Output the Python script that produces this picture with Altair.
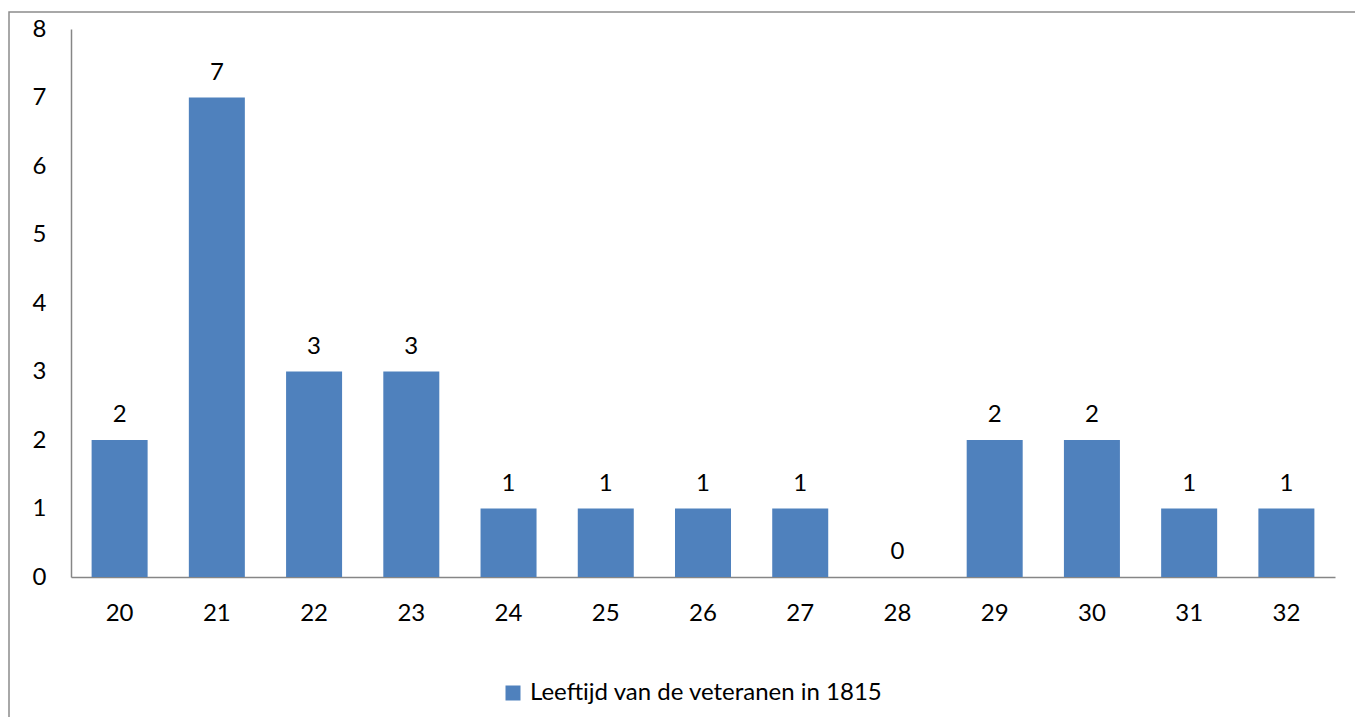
import altair as alt
import pandas as pd

ages = ["20", "21", "22", "23", "24", "25", "26", "27", "28", "29", "30", "31", "32"]
counts = [2, 7, 3, 3, 1, 1, 1, 1, 0, 2, 2, 1, 1]
series_name = "Leeftijd van de veteranen in 1815"

df = pd.DataFrame({"age": ages, "count": counts, "series": [series_name] * len(ages)})

FONT = "Lato"
FS = 24
W, H = 1264, 548

base = alt.Chart(df).encode(
    x=alt.X("age:N", sort=ages, title=None,
            scale=alt.Scale(paddingInner=0.424, paddingOuter=0.212),
            axis=alt.Axis(labelAngle=0, ticks=False, labelPadding=24, labelFontSize=FS,
                          labelFont=FONT, labelColor="#000", domainColor="#868686",
                          domainWidth=1.5)),
    y=alt.Y("count:Q", title=None,
            scale=alt.Scale(domain=[0, 8], nice=False),
            axis=alt.Axis(values=list(range(9)), ticks=False, grid=False, labelPadding=25,
                          labelFontSize=FS, labelFont=FONT, labelColor="#000",
                          domainColor="#868686", domainWidth=1.5)),
)

bars = base.mark_bar(clip=False).encode(
    color=alt.Color("series:N", title=None,
                    scale=alt.Scale(range=["#4F81BD"]),
                    legend=alt.Legend(orient="none", legendX=430, legendY=652,
                                      symbolType="square", symbolSize=225,
                                      symbolStrokeWidth=0, labelFontSize=FS,
                                      labelFont=FONT, labelColor="#000",
                                      labelOffset=5, labelLimit=600))
)

labels = base.mark_text(dy=-18, baseline="alphabetic", fontSize=FS, font=FONT, color="#000").encode(
    text="count:Q"
)

border = alt.Chart(pd.DataFrame({"a": [0]})).mark_rect(
    fill=None, stroke="#8c8c8c", strokeWidth=1.5, clip=False
).encode(
    x=alt.value(-62), x2=alt.value(W + 200), y=alt.value(-17), y2=alt.value(H + 300)
)

chart = alt.layer(border, bars, labels).properties(
    width=W, height=H,
    autosize=alt.AutoSizeParams(type="none"),
    padding={"left": 63, "top": 21, "right": 20, "bottom": 140},
).configure_view(stroke=None)

chart.save("out.html", embed_options={"renderer": "svg", "actions": False})
